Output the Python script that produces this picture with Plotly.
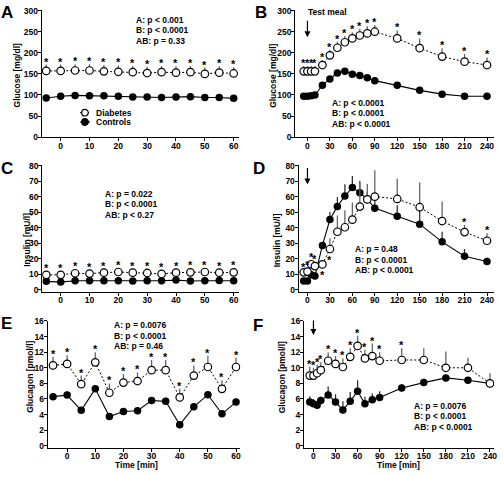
import plotly.graph_objects as go

W, H = 504, 477

# ---------------- data ----------------
t_basal = [-5, 0, 5, 10, 15, 20, 25, 30, 35, 40, 45, 50, 55, 60]
t_meal = [-5, 0, 5, 10, 20, 30, 40, 50, 60, 70, 80, 90, 120, 150, 180, 210, 240]

# A: glucose basal
glucA_dm = [157, 157, 158, 158, 156, 155, 154, 152, 154, 153, 154, 150, 153, 151]
glucA_dm_err = [15, 15, 15, 15, 15, 15, 15, 15, 15, 15, 15, 15, 15, 15]
glucA_ct = [93, 97, 99, 98, 98, 97, 95, 95, 94, 95, 96, 94, 94, 92]
glucA_ct_err = [2, 2, 2, 2, 2, 2, 2, 2, 2, 2, 2, 2, 2, 2]
starsA = [1] * 14

# B: glucose meal
glucB_dm = [156, 156, 156, 156, 171, 194, 212, 225, 234, 241, 246, 250, 234, 211, 191, 179, 171]
glucB_dm_err = [13, 13, 13, 13, 12, 13, 14, 15, 15, 16, 17, 16, 19, 23, 20, 18, 18]
glucB_ct = [97, 97, 98, 100, 123, 138, 152, 156, 149, 146, 141, 134, 123, 111, 102, 97, 97]
glucB_ct_err = [2, 2, 2, 2, 4, 4, 4, 3, 3, 3, 3, 4, 3, 3, 3, 2, 2]
starsB = [1] * 17

# C: insulin basal
insC_dm = [9.7, 9.7, 10.7, 10.5, 11.1, 11.5, 11.1, 10.9, 10.3, 11.1, 11.3, 11.5, 11.1, 11.3]
insC_dm_err = [2.5] * 14
insC_ct = [5.5, 5.0, 5.9, 5.9, 5.9, 5.9, 5.7, 5.9, 5.9, 6.3, 5.7, 5.9, 6.1, 5.9]
insC_ct_err = [0.6] * 14
starsC = [1] * 14

# D: insulin meal
insD_dm = [11.3, 11.8, 16.5, 15.3, 16.4, 26.3, 37.4, 40.3, 45.2, 53.6, 58.2, 60.0, 58.5, 53.2, 44.3, 37.2, 31.6]
insD_dm_err = [1.5, 2, 2.5, 2.5, 2, 7, 10.5, 11, 11, 15, 10, 17, 13, 16, 12.5, 4.5, 4.8]
insD_ct = [5.8, 5.8, 9.7, 8.9, 28.6, 45.3, 53.7, 60.4, 65.8, 62.5, 58.3, 52.6, 47.4, 42.3, 30.9, 21.7, 18.3]
insD_ct_err = [0.5, 0.5, 1, 1, 2, 4.8, 6, 7.5, 7.4, 7.5, 5, 5, 7, 8.8, 6.5, 4.6, 2.3]
starsD = [1, 1, 1, 1, -1, -1, 0, 0, 0, 0, 0, 0, 0, 0, 0, 1, 1]

# E: glucagon basal
glcE_dm = [10.3, 10.5, 7.9, 10.7, 6.8, 8.1, 8.3, 9.7, 9.7, 6.2, 9.0, 10.1, 7.3, 10.1]
glcE_dm_err = [1.1, 1.1, 1.1, 1.3, 1.2, 1.1, 1.1, 1.3, 1.3, 1.1, 1.3, 1.4, 1.1, 1.2]
glcE_ct = [6.3, 6.5, 4.55, 7.3, 3.76, 4.4, 4.5, 5.8, 5.7, 2.7, 5.0, 6.55, 4.1, 5.6]
glcE_ct_err = [0.45] * 14
starsE = [1] * 14

# F: glucagon meal
glcF_dm = [9.0, 9.0, 9.3, 9.7, 10.9, 10.5, 10.1, 11.4, 12.8, 11.2, 11.5, 10.9, 11.0, 11.0, 10.0, 10.0, 8.0]
glcF_dm_err = [1.1, 1.0, 1.1, 1.0, 1.1, 1.0, 1.1, 1.1, 1.3, 1.1, 1.6, 1.1, 1.5, 1.5, 2.1, 1.3, 1.3]
glcF_ct = [5.6, 5.4, 5.2, 5.8, 6.5, 5.6, 4.6, 5.7, 7.0, 5.4, 5.9, 6.2, 7.4, 8.1, 8.7, 8.4, 8.0]
glcF_ct_err = [0.75, 0.6, 0.5, 0.5, 1.1, 1.0, 1.1, 1.2, 1.4, 0.9, 0.8, 0.8, 0.5, 0.5, 0.4, 0.3, 0.2]
starsF = [1] * 13 + [0] * 4

stats_text = {
    "A": ["A: p < 0.001", "B: p < 0.0001", "AB: p = 0.33"],
    "B": ["A: p < 0.0001", "B: p < 0.0001", "AB: p < 0.0001"],
    "C": ["A: p = 0.022", "B: p < 0.0001", "AB: p < 0.27"],
    "D": ["A: p = 0.48", "B: p < 0.0001", "AB: p < 0.0001"],
    "E": ["A: p = 0.0076", "B: p < 0.0001", "AB: p = 0.46"],
    "F": ["A: p = 0.0076", "B: p < 0.0001", "AB: p < 0.0001"],
}
y_titles = {"A": "Glucose [mg/dl]", "B": "Glucose [mg/dl]",
            "C": "Insulin [mU/l]", "D": "Insulin [mU/l]",
            "E": "Glucagon [pmol/l]", "F": "Glucagon [pmol/l]"}
basal_ticks = [0, 10, 20, 30, 40, 50, 60]
meal_ticks = [0, 30, 60, 90, 120, 150, 180, 210, 240]

# ---------------- layout geometry (pixels) ----------------
# panel: (x_left_px, x_right_px, x_range, y_top_px, y_bottom_px, y_range, y_dtick)
geom = {
    "A": (42, 240, [-6.55, 61.7], 5.3, 135, [0, 301], 50),
    "B": (297, 497, [-16.3, 249.4], 5.3, 135, [0, 301], 50),
    "C": (42.5, 240, [-6.4, 61.7], 163.5, 293, [-1.26, 80.3], 10),
    "D": (300.5, 497, [-11.7, 249.4], 163.5, 293, [-1.26, 80.3], 10),
    "E": (48, 241.7, [-6.9, 61.5], 322.5, 452, [-0.22, 16.03], 2),
    "F": (306, 497, [-12.6, 245.5], 322.5, 452, [-0.22, 16.03], 2),
}

panels = [
    ("A", t_basal, glucA_dm, glucA_dm_err, glucA_ct, glucA_ct_err, starsA, basal_ticks),
    ("B", t_meal, glucB_dm, glucB_dm_err, glucB_ct, glucB_ct_err, starsB, meal_ticks),
    ("C", t_basal, insC_dm, insC_dm_err, insC_ct, insC_ct_err, starsC, basal_ticks),
    ("D", t_meal, insD_dm, insD_dm_err, insD_ct, insD_ct_err, starsD, meal_ticks),
    ("E", t_basal, glcE_dm, glcE_dm_err, glcE_ct, glcE_ct_err, starsE, basal_ticks),
    ("F", t_meal, glcF_dm, glcF_dm_err, glcF_ct, glcF_ct_err, starsF, meal_ticks),
]

FONT = "Liberation Sans, Arial, sans-serif"
fig = go.Figure()
annotations = []
shapes = []


def px2x(px):
    return px / W


def px2y(py):
    return 1 - py / H


for i, (name, t, dm, dm_err, ct, ct_err, stars, xticks) in enumerate(panels):
    idx = "" if i == 0 else str(i + 1)
    xa, ya = "x" + idx, "y" + idx
    xl, xr, xrng, yt, yb, yrng, dt = geom[name]
    axis_common = dict(showline=True, linecolor="black", linewidth=1.3,
                       ticks="outside", ticklen=3, tickwidth=1.3, tickcolor="black",
                       showgrid=False, zeroline=False,
                       tickfont=dict(family=FONT, size=8.5, color="black", weight="bold"))
    fig.update_layout(**{
        "xaxis" + idx: dict(domain=[px2x(xl), px2x(xr)], range=xrng, anchor=ya,
                            tickvals=xticks, ticklabelstandoff=-3, **axis_common),
        "yaxis" + idx: dict(domain=[px2y(yb), px2y(yt)], range=yrng, anchor=xa,
                            dtick=dt, tick0=0, ticklabelstandoff=-2, **axis_common),
    })
    # controls
    fig.add_trace(go.Scatter(
        x=t, y=ct, xaxis=xa, yaxis=ya, mode="lines+markers", name="Controls",
        showlegend=False,
        line=dict(color="black", width=1.1),
        marker=dict(symbol="circle", size=7.5, color="black"),
        error_y=dict(type="data", array=ct_err, arrayminus=[0] * len(ct_err),
                     symmetric=False, color="#333333", thickness=1.3, width=0)))
    # diabetes
    fig.add_trace(go.Scatter(
        x=t, y=dm, xaxis=xa, yaxis=ya, mode="lines+markers", name="Diabetes",
        showlegend=False,
        line=dict(color="black", width=1, dash="2px,2px"),
        marker=dict(symbol="circle", size=7.5, color="white",
                    line=dict(color="black", width=1.2)),
        error_y=dict(type="data", array=dm_err, arrayminus=[0] * len(dm_err),
                     symmetric=False, color="#666666", thickness=1.3, width=0)))
    # significance stars
    for tx, m, e, s in zip(t, dm, dm_err, stars):
        if s == 1:
            annotations.append(dict(x=tx, y=m + e, xref=xa, yref=ya, text="*",
                                    showarrow=False, yanchor="bottom", yshift=-5,
                                    font=dict(family=FONT, size=11, color="black", weight="bold")))
        elif s == -1:
            annotations.append(dict(x=tx, y=m, xref=xa, yref=ya, text="*",
                                    showarrow=False, yanchor="top", yshift=-3,
                                    font=dict(family=FONT, size=11, color="black", weight="bold")))

# panel letters (visual centre positions)
letter_pos = {"A": (-1, 8), "B": (255, 7.5), "C": (-1, 166.5), "D": (253, 166.5), "E": (-1, 325.5), "F": (253, 327.5)}
for k, (lx, ly) in letter_pos.items():
    annotations.append(dict(x=px2x(lx), y=px2y(ly), xref="paper", yref="paper", text=k,
                            showarrow=False, xanchor="left", yanchor="middle",
                            font=dict(family=FONT, size=17, color="black", weight="bold")))

# y axis titles
ytitle_pos = {"A": (18, 72), "B": (275, 72), "C": (27, 240), "D": (279, 240), "E": (30, 380), "F": (284, 380)}
for k, (tx, ty) in ytitle_pos.items():
    annotations.append(dict(x=px2x(tx), y=px2y(ty), xref="paper", yref="paper", text=y_titles[k],
                            showarrow=False, textangle=-90, xanchor="center", yanchor="middle",
                            font=dict(family=FONT, size=8.5, color="black", weight="bold")))

# x axis titles
for tx in (137, 401):
    annotations.append(dict(x=px2x(tx), y=px2y(469.5), xref="paper", yref="paper", text="Time [min]",
                            showarrow=False, xanchor="center", yanchor="middle",
                            font=dict(family=FONT, size=8.5, color="black", weight="bold")))

# statistics text (top line centre y in px, left x in px)
stats_pos = {"A": (135, 15), "B": (331.7, 100), "C": (104, 193), "D": (355, 249.5),
             "E": (112.7, 327.3), "F": (414.3, 409.3)}
for k, (sx, sy) in stats_pos.items():
    for j, line in enumerate(stats_text[k]):
        annotations.append(dict(x=px2x(sx), y=px2y(sy + j * 10.7), xref="paper", yref="paper",
                                text=line, showarrow=False, xanchor="left", yanchor="middle",
                                font=dict(family=FONT, size=8.5, color="black", weight="bold")))

# meal arrows
annotations.append(dict(x=0, y=237, xref="x2", yref="y2", text="", showarrow=True,
                        ax=0, ay=-18, arrowhead=2, arrowsize=1, arrowwidth=1.2, arrowcolor="black"))
annotations.append(dict(x=px2x(308), y=px2y(7.5), xref="paper", yref="paper", text="Test meal",
                        showarrow=False, xanchor="left", yanchor="middle",
                        font=dict(family=FONT, size=8.5, color="black", weight="bold")))
annotations.append(dict(x=0, y=67.8, xref="x4", yref="y4", text="", showarrow=True,
                        ax=0, ay=-18, arrowhead=2, arrowsize=1, arrowwidth=1.2, arrowcolor="black"))
annotations.append(dict(x=0, y=14.2, xref="x6", yref="y6", text="", showarrow=True,
                        ax=0, ay=-16, arrowhead=2, arrowsize=1, arrowwidth=1.2, arrowcolor="black"))

# legend (panel A)
leg = [("Diabetes", 110, "white", "dot"), ("Controls", 119.5, "black", "solid")]
for label, ly, fill, dash in leg:
    shapes.append(dict(type="line", xref="paper", yref="paper", x0=px2x(80.5), x1=px2x(90.5),
                       y0=px2y(ly), y1=px2y(ly), line=dict(color="black", width=1, dash=dash)))
    shapes.append(dict(type="circle", xref="paper", yref="paper", xsizemode="pixel", ysizemode="pixel",
                       xanchor=px2x(85.5), yanchor=px2y(ly), x0=-3.3, x1=3.3, y0=-3.3, y1=3.3,
                       fillcolor=fill, line=dict(color="black", width=1.2)))
    annotations.append(dict(x=px2x(95), y=px2y(ly), xref="paper", yref="paper", text=label,
                            showarrow=False, xanchor="left", yanchor="middle",
                            font=dict(family=FONT, size=8.5, color="black", weight="bold")))

fig.update_layout(width=W, height=H, margin=dict(l=0, r=0, t=0, b=0),
                  paper_bgcolor="white", plot_bgcolor="white", showlegend=False,
                  annotations=annotations, shapes=shapes,
                  font=dict(family=FONT, color="black"))

fig.write_html("out.html", config={"displayModeBar": False},
               post_script="document.body.style.margin='0';")
